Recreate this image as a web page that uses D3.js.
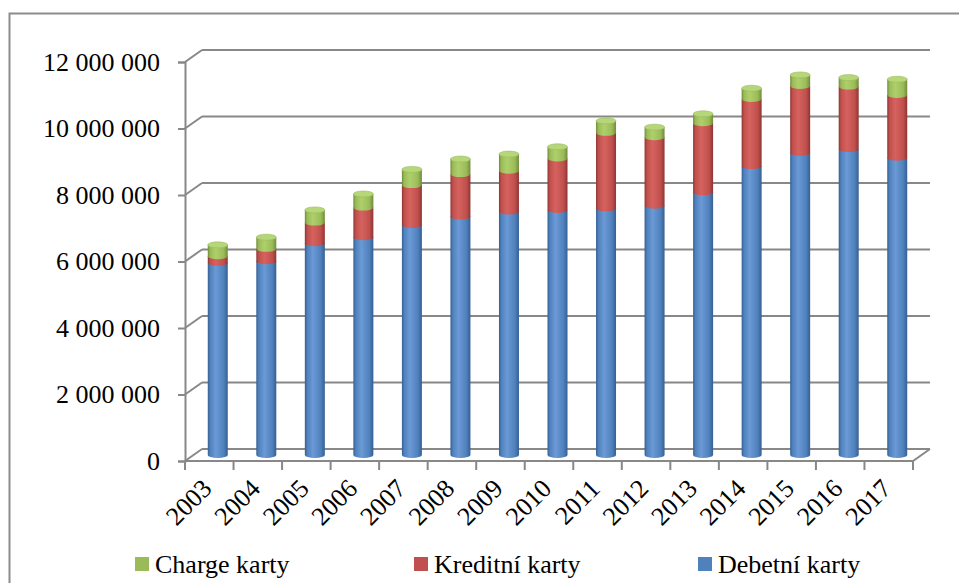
<!DOCTYPE html>
<html>
<head>
<meta charset="utf-8">
<script src="https://cdn.jsdelivr.net/npm/d3@7"></script>
<style>
  body { margin: 0; background: #fff; }
  svg text { font-family: "Liberation Serif", "Tinos", "Times New Roman", "DejaVu Serif", serif !important; fill: #000; }
</style>
</head>
<body>
<div id="chart"></div>
<script>
// data
var years = ["2003", "2004", "2005", "2006", "2007", "2008", "2009", "2010",
             "2011", "2012", "2013", "2014", "2015", "2016", "2017"];
var debetni = [5780000, 5830000, 6370000, 6550000, 6920000, 7170000, 7320000, 7370000,
               7420000, 7500000, 7900000, 8690000, 9090000, 9200000, 8940000];
var kreditni = [200000, 370000, 620000, 890000, 1200000, 1280000, 1230000, 1550000,
                2270000, 2060000, 2080000, 2020000, 2010000, 1880000, 1890000];
var charge = [340000, 350000, 380000, 410000, 470000, 450000, 500000, 350000,
              360000, 300000, 280000, 320000, 330000, 270000, 470000];
var seriesNames = ["Debetní karty", "Kreditní karty", "Charge karty"];
var yTicks = [0, 2000000, 4000000, 6000000, 8000000, 10000000, 12000000];

var FONT = "'Liberation Serif', 'Tinos', 'Times New Roman', 'DejaVu Serif', serif";

function init() {
    var w = 959, h = 583;
    var dx = 17, dy = -12;   // 3D depth offset of back wall

    var svg = d3.select("#chart").append("svg")
        .attr("width", w).attr("height", h)
        .attr("font-family", FONT);

    // outer frame (only top and left visible)
    svg.append("path").attr("d", "M9.5,583 V13.5 H959")
        .attr("fill", "none").attr("stroke", "#8c8c8c").attr("stroke-width", 2);

    var x = d3.scaleBand().domain(years).range([185, 913]).paddingInner(0).paddingOuter(0);
    var y = d3.scaleLinear().domain([0, 12000000]).range([461, 62]);

    var grid = "#888";
    // gridlines on back wall + diagonals on the side wall
    yTicks.forEach(function(t) {
        svg.append("line")
           .attr("x1", 185 + dx).attr("x2", 913 + dx)
           .attr("y1", y(t) + dy).attr("y2", y(t) + dy)
           .attr("stroke", grid).attr("stroke-width", 2);
        svg.append("line")
           .attr("x1", 185).attr("x2", 185 + dx)
           .attr("y1", y(t)).attr("y2", y(t) + dy)
           .attr("stroke", grid).attr("stroke-width", 2);
    });
    // floor front edge and right diagonal
    svg.append("path")
       .attr("d", "M185," + y(0) + " H913 L" + (913 + dx) + "," + (y(0) + dy))
       .attr("fill", "none").attr("stroke", grid).attr("stroke-width", 2);

    // y axis
    var yAxis = d3.axisLeft(y).tickValues(yTicks).tickSize(7).tickPadding(18)
        .tickFormat(function(d) { return d3.format(",")(d).replace(/,/g, " "); });
    var ya = svg.append("g").attr("transform", "translate(185,0)").call(yAxis);
    ya.attr("font-family", FONT).attr("font-size", 26);
    ya.select(".domain").attr("stroke", grid).attr("stroke-width", 2);
    ya.selectAll(".tick line").attr("stroke", grid).attr("stroke-width", 2);
    ya.selectAll("text").attr("fill", "#000");

    // x axis ticks at category borders
    var borders = years.map(function(d) { return x(d); }).concat([913]);
    svg.selectAll(".xtick").data(borders).enter().append("line")
       .attr("x1", function(d) { return d; }).attr("x2", function(d) { return d; })
       .attr("y1", y(0)).attr("y2", y(0) + 9)
       .attr("stroke", grid).attr("stroke-width", 2);

    svg.selectAll(".xlab").data(years).enter().append("text")
       .attr("transform", function(d) {
           return "translate(" + (x(d) + x.bandwidth() / 2 + 4) + ",490) rotate(-45)";
       })
       .attr("text-anchor", "end")
       .attr("font-size", 26)
       .text(function(d) { return d; });

    // gradients for cylinders
    var colors = [
        { name: "blue", dark: "#355f91", mid: "#4f81bd", light: "#6b9ad6", top: "#7aa5dc" },
        { name: "red", dark: "#8e3532", mid: "#c0504d", light: "#d6625f", top: "#e07b78" },
        { name: "green", dark: "#6f8c3b", mid: "#9bbb59", light: "#aed06b", top: "#b6d67a" }
    ];
    var defs = svg.append("defs");
    colors.forEach(function(c) {
        var g = defs.append("linearGradient").attr("id", "g-" + c.name)
            .attr("x1", "0%").attr("x2", "100%").attr("y1", "0%").attr("y2", "0%");
        g.append("stop").attr("offset", "0%").attr("stop-color", c.dark);
        g.append("stop").attr("offset", "12%").attr("stop-color", c.mid);
        g.append("stop").attr("offset", "40%").attr("stop-color", c.light);
        g.append("stop").attr("offset", "80%").attr("stop-color", c.mid);
        g.append("stop").attr("offset", "100%").attr("stop-color", c.dark);
    });

    // stacked data
    var table = years.map(function(d, i) {
        return { year: d, "Debetní karty": debetni[i], "Kreditní karty": kreditni[i], "Charge karty": charge[i] };
    });
    var stack = d3.stack().keys(seriesNames)(table);

    var bw = 20, rx = bw / 2, ry = 3;
    var ox = dx / 2, oy = dy / 2;   // bars sit in the middle of the depth

    stack.forEach(function(layer, li) {
        var c = colors[li];
        svg.append("g").selectAll("path").data(layer).enter().append("path")
           .attr("d", function(d) {
               var cx = x(d.data.year) + x.bandwidth() / 2 + ox;
               var y0 = y(d[0]) + oy, y1 = y(d[1]) + oy;
               return "M" + (cx - rx) + "," + y1 +
                      " L" + (cx + rx) + "," + y1 +
                      " L" + (cx + rx) + "," + y0 +
                      " A" + rx + "," + ry + " 0 0 1 " + (cx - rx) + "," + y0 + " Z";
           })
           .attr("fill", "url(#g-" + c.name + ")");
    });

    // top caps of the cylinders
    var topLayer = stack[stack.length - 1];
    svg.append("g").selectAll("ellipse").data(topLayer).enter().append("ellipse")
       .attr("cx", function(d) { return x(d.data.year) + x.bandwidth() / 2 + ox; })
       .attr("cy", function(d) { return y(d[1]) + oy; })
       .attr("rx", rx).attr("ry", ry)
       .attr("fill", colors[2].top)
       .attr("stroke", colors[2].mid).attr("stroke-width", 0.6);

    // legend (order as in the picture)
    var legend = [
        { label: "Charge karty", color: "#9bbb59", x: 135 },
        { label: "Kreditní karty", color: "#c0504d", x: 414 },
        { label: "Debetní karty", color: "#4f81bd", x: 698 }
    ];
    var lg = svg.selectAll(".leg").data(legend).enter().append("g");
    lg.append("rect").attr("x", function(d) { return d.x; }).attr("y", 557)
      .attr("width", 14).attr("height", 14).attr("fill", function(d) { return d.color; });
    lg.append("text").attr("x", function(d) { return d.x + 20; }).attr("y", 573)
      .attr("font-size", 26).text(function(d) { return d.label; });
}

window.onload = init;
</script>
</body>
</html>
